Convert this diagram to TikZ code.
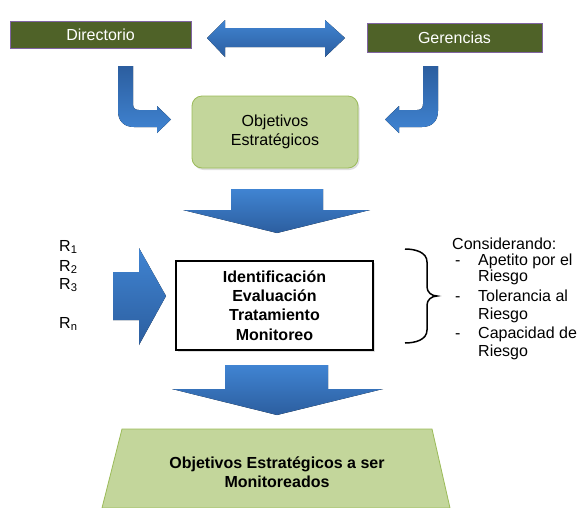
\documentclass[tikz,border=0pt]{standalone}
\usepackage{fontspec}
\setmainfont{Liberation Sans}
\usetikzlibrary{positioning, shadows}

\definecolor{olivebox}{HTML}{4F6228}
\definecolor{purpleline}{HTML}{8064A2}
\definecolor{greenfill}{HTML}{C3D69B}
\definecolor{greenline}{HTML}{9BBB59}
\definecolor{bluelight}{HTML}{4084D2}
\definecolor{bluedark}{HTML}{2C5E9F}

\tikzset{
  headbox/.style={draw=purpleline, fill=olivebox, text=white, line width=0.8pt, inner sep=0pt},
  greenbox/.style={draw=greenline, fill=greenfill, line width=0.8pt, align=center},
  softshadow/.style={drop shadow={opacity=0.25, shadow xshift=1.5pt, shadow yshift=-2pt}},
  downarrow/.style={top color=bluelight, bottom color=bluedark},
  bentarrow/.style={top color=bluedark, bottom color=bluelight},
  plain/.style={inner sep=0pt, anchor=base west},
}

\begin{document}
\begin{tikzpicture}[x=1pt, y=-1pt, font=\fontsize{16}{19.3}\selectfont]
\useasboundingbox (0,0) rectangle (579,507);

% top boxes
\node[headbox, minimum width=181pt, minimum height=27pt] (dir) at (100.5,34.5) {Directorio};
\node[headbox, minimum width=175pt, minimum height=29pt] (ger) at (454.5,37.5) {Gerencias};

% double arrow between them
\fill[downarrow] (207,38) -- (225,20) -- (225,28) -- (325,28) -- (325,20) -- (345,38)
  -- (325,57) -- (325,47) -- (225,47) -- (225,57) -- cycle;

% bent arrows
\fill[bentarrow] (118,66) -- (133,66) -- (133,104) .. controls (133,108) and (135,110) .. (139,110)
  -- (157,110) -- (157,106) -- (171,119.5) -- (157,133) -- (157,127) -- (134,127)
  .. controls (124,127) and (118,121) .. (118,111) -- cycle;
\fill[bentarrow] (438,66) -- (423,66) -- (423,104) .. controls (423,108) and (421,110) .. (417,110)
  -- (399,110) -- (399,106) -- (385,119.5) -- (399,133) -- (399,127) -- (422,127)
  .. controls (432,127) and (438,121) .. (438,111) -- cycle;

\node[greenbox, softshadow, rounded corners=10pt, minimum width=166pt, minimum height=72pt] (obj)
  at (275,132) {Objetivos\\Estratégicos};

% first down arrow
\fill[downarrow] (231,189) -- (323,189) -- (323,210) -- (370,210) -- (277,233) -- (183,210)
  -- (231,210) -- cycle;

% risks
\node[plain] (r1) at (59,251) {R\textsubscript{1}};
\node[plain] (r2) at (59,271) {R\textsubscript{2}};
\node[plain] (r3) at (59,289) {R\textsubscript{3}};
\node[plain] (rn) at (59,328) {R\textsubscript{n}};

\fill[downarrow] (113,272) -- (139,272) -- (139,248) -- (166,296) -- (139,345) -- (139,320)
  -- (113,320) -- cycle;

\node[draw, line width=1.5pt, fill=white, softshadow, minimum width=197pt, minimum height=89pt,
  align=center, font=\fontsize{16}{19.3}\selectfont\bfseries] (proc) at (274.5,305.5)
  {Identificación\\Evaluación\\Tratamiento\\Monitoreo};

% brace and conditions
\draw[line width=1.5pt] (405,249) to[out=0,in=90] (427,262) -- (427,287) to[out=-90,in=180] (437,296)
  to[out=180,in=90] (427,305) -- (427,330) to[out=-90,in=0] (405,343);

\node[plain] (cons) at (452,249) {Considerando:};
\node[plain] (dash1) at (455,265) {-};
\node[plain] (apetito) at (478,265) {Apetito por el};
\node[plain] (riesgo1) at (478,281) {Riesgo};
\node[plain] (dash2) at (455,301) {-};
\node[plain] (tolerancia) at (478,301) {Tolerancia al};
\node[plain] (riesgo2) at (478,319) {Riesgo};
\node[plain] (dash3) at (455,338) {-};
\node[plain] (capacidad) at (478,338) {Capacidad de};
\node[plain] (riesgo3) at (478,356) {Riesgo};

% second down arrow
\fill[downarrow] (225,365) -- (328,365) -- (328,389) -- (383,389) -- (277,415) -- (172,389)
  -- (225,389) -- cycle;

% result
\filldraw[draw=greenline, fill=greenfill, line width=0.8pt] (122,429) -- (432,429) -- (450,508)
  -- (102,508) -- cycle;
\node[align=center, font=\fontsize{16}{19.3}\selectfont\bfseries] (mon) at (277,472)
  {Objetivos Estratégicos a ser\\Monitoreados};
\end{tikzpicture}
\end{document}
